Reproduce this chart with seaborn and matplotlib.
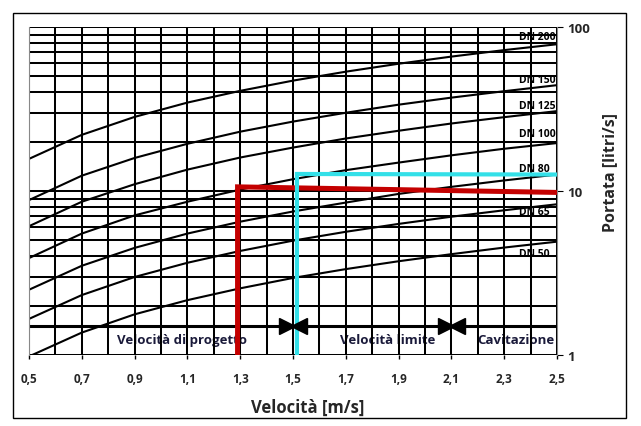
import numpy as np
import pandas as pd
import seaborn as sns
import matplotlib.pyplot as plt
from matplotlib.patches import Rectangle
from matplotlib.transforms import offset_copy

# velocity (m/s) and flow (l/s) for each pipe size
velocity = [0.5, 0.7, 0.9, 1.1, 1.3, 1.5, 1.7, 1.9, 2.1, 2.3, 2.5]
q_dn200 = [15.7, 22.0, 28.3, 34.6, 40.8, 47.1, 53.4, 59.7, 66.0, 72.3, 78.5]
q_dn150 = [8.8, 12.4, 15.9, 19.4, 23.0, 26.5, 30.0, 33.6, 37.1, 40.6, 44.2]
q_dn125 = [6.1, 8.6, 11.0, 13.5, 16.0, 18.4, 20.9, 23.3, 25.8, 28.2, 30.7]
q_dn100 = [3.9, 5.5, 7.1, 8.6, 10.2, 11.8, 13.4, 14.9, 16.5, 18.1, 19.6]
q_dn80 = [2.5, 3.5, 4.5, 5.5, 6.5, 7.5, 8.5, 9.6, 10.6, 11.6, 12.6]
q_dn65 = [1.66, 2.32, 2.99, 3.65, 4.31, 4.98, 5.64, 6.30, 6.97, 7.63, 8.30]
q_dn50 = [0.98, 1.37, 1.77, 2.16, 2.55, 2.95, 3.34, 3.73, 4.12, 4.52, 4.91]

dn_names = ['DN 200', 'DN 150', 'DN 125', 'DN 100', 'DN 80', 'DN 65', 'DN 50']
dn_label_y = [87, 48, 33.4, 22.3, 13.8, 7.45, 4.13]

# design point (red) and limit point (cyan)
red_x = [1.29, 1.29, 2.5]
red_y = [1.0, 10.6, 9.8]
cyan_x = [1.515, 1.515, 2.5]
cyan_y = [1.0, 12.7, 12.6]

# zone band
band_y = 1.5
band_marks = [1.5, 2.1]
zone_labels = ['Velocità di progetto', 'Velocità limite', 'Cavitazione']
zone_x = [1.08, 1.86, 2.345]
zone_y = 1.25

x_ticks = [0.5, 0.7, 0.9, 1.1, 1.3, 1.5, 1.7, 1.9, 2.1, 2.3, 2.5]
x_ticklabels = ['0,5', '0,7', '0,9', '1,1', '1,3', '1,5', '1,7', '1,9', '2,1', '2,3', '2,5']
y_ticks = [1, 10, 100]
y_ticklabels = ['1', '10', '100']

frames = []
for name, q in zip(dn_names, [q_dn200, q_dn150, q_dn125, q_dn100, q_dn80, q_dn65, q_dn50]):
    frames.append(pd.DataFrame({'Velocita': velocity, 'Portata': q, 'DN': name}))
df = pd.concat(frames, ignore_index=True)

sns.set_theme(style='white')
plt.rcParams['font.family'] = ['Open Sans', 'DejaVu Sans']

fig = plt.figure(figsize=(6.41, 4.27), dpi=100)
ax = fig.add_axes([29 / 641, 1 - 356 / 427, (557 - 29) / 641, (356 - 28) / 427])

sns.lineplot(data=df, x='Velocita', y='Portata', hue='DN',
             palette=['black'] * len(dn_names), legend=False,
             linewidth=1.5, ax=ax, zorder=2)

ax.set_yscale('log')
ax.set_xlim(0.5, 2.5)
ax.set_ylim(1, 100)

# grid
ax.set_xticks(x_ticks)
ax.set_xticklabels(x_ticklabels, fontsize=8.5, fontweight='bold')
ax.set_xticks(np.arange(0.6, 2.45, 0.2), minor=True)
ax.yaxis.tick_right()
ax.set_yticks(y_ticks)
ax.set_yticklabels(y_ticklabels, fontsize=9.5, fontweight='bold')
ax.set_yticks([v * d for d in [1, 10] for v in range(2, 10)], minor=True)
ax.yaxis.set_minor_formatter(plt.NullFormatter())
ax.set_axisbelow(True)
ax.grid(True, which='both', color='black', linewidth=1.45)
ax.tick_params(axis='x', which='major', direction='out', length=3, width=1,
               color='black', pad=9, bottom=True)
ax.tick_params(axis='x', which='minor', length=0)
ax.tick_params(axis='y', which='major', direction='out', length=4, width=0.8,
               color='black', pad=3, right=True, left=False)
ax.tick_params(axis='y', which='minor', length=0)
for side in ['top', 'bottom']:
    ax.spines[side].set_visible(False)
for side in ['left', 'right']:
    ax.spines[side].set_color('#888888')
    ax.spines[side].set_linewidth(0.8)
ax.set_xlabel('')
ax.set_ylabel('')

# band with arrows
ax.axhline(band_y, color='black', linewidth=2.2, zorder=2.5)
for xm in band_marks:
    left = offset_copy(ax.transData, fig=fig, x=-4, y=0, units='points')
    right = offset_copy(ax.transData, fig=fig, x=4, y=0, units='points')
    ax.plot([xm], [band_y], marker='>', markersize=11, color='black', transform=left, zorder=4)
    ax.plot([xm], [band_y], marker='<', markersize=11, color='black', transform=right, zorder=4)

for label, xz in zip(zone_labels, zone_x):
    ax.text(xz, zone_y, label, ha='center', va='center', fontsize=9.5,
            fontweight='bold', color='#1a1a3a', zorder=0.3)

for name, yl in zip(dn_names, dn_label_y):
    ax.text(2.355, yl, name, ha='left', va='center', fontsize=7.5,
            fontweight='bold', color='black', zorder=0.3)

ax.plot(red_x, red_y, color='#c40000', linewidth=3.6, zorder=3, solid_joinstyle='miter')
ax.plot(cyan_x, cyan_y, color='#33e0e8', linewidth=3.0, zorder=3, solid_joinstyle='miter')

fig.text(308 / 641, 1 - 408 / 427, 'Velocità [m/s]', ha='center', va='center',
         fontsize=12, fontweight='bold')
fig.text(610 / 641, 1 - 173 / 427, 'Portata [litri/s]', ha='center', va='center',
         rotation=90, fontsize=11.5, fontweight='bold')

fig.patches.append(Rectangle((13 / 641, 1 - 419 / 427), (626 - 13) / 641, (419 - 14) / 427,
                             transform=fig.transFigure, fill=False,
                             edgecolor='black', linewidth=1))

fig.savefig('out.png', dpi=100)
